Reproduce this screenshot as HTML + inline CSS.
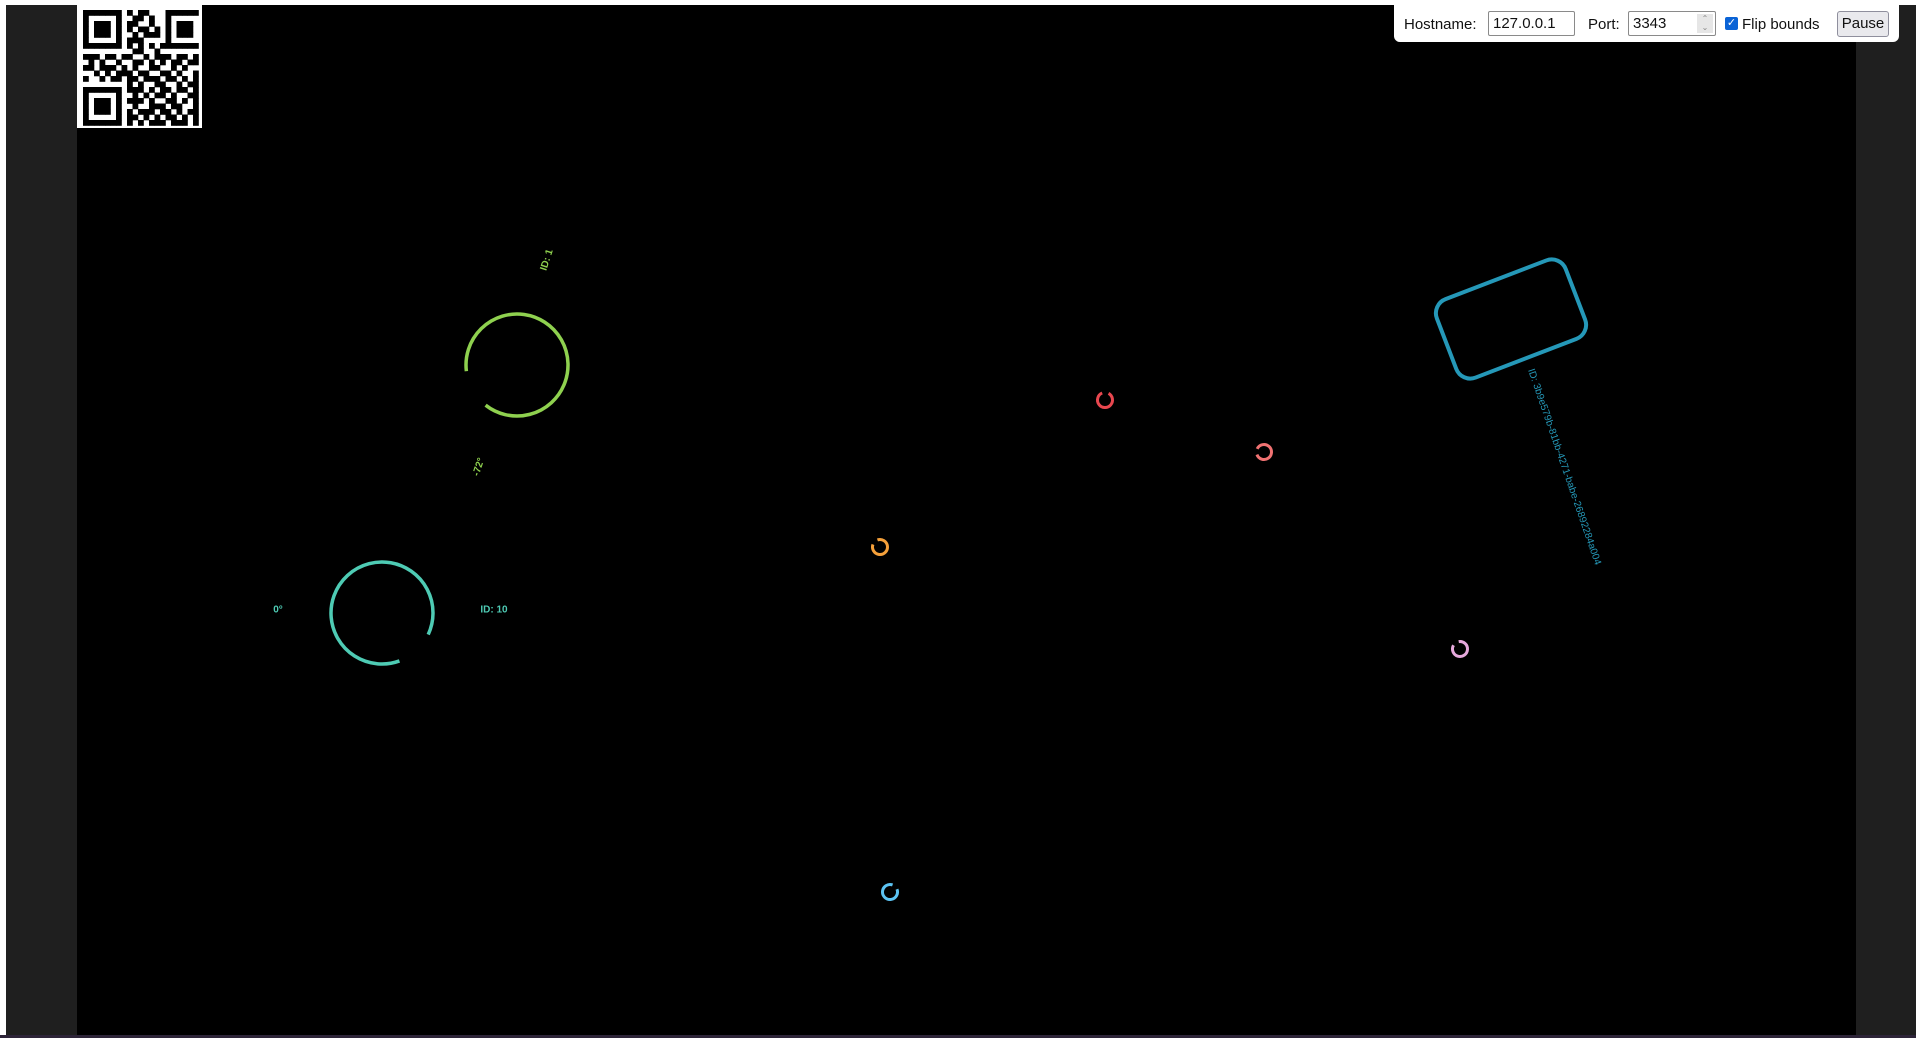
<!DOCTYPE html>
<html><head><meta charset="utf-8"><title>Tracker view</title>
<style>
html,body{margin:0;padding:0;width:1916px;height:1038px;overflow:hidden;background:#fff;font-family:"Liberation Sans",sans-serif}
#stage{position:absolute;left:0;top:0}
#panel{position:absolute;left:1394px;top:4px;width:505px;height:38px;background:#fff;border-radius:0 0 6px 6px;font-size:15px;color:#111}
#panel .t{position:absolute;top:11px;line-height:20px}
#panel .inp{position:absolute;top:7px;height:25px;box-sizing:border-box;border:1px solid #8a8a8a;border-radius:2px;background:#fff;font-size:15px;line-height:23px;padding-left:4px}
#panel .spin{position:absolute;right:2px;top:2px;width:16px;height:19px;background:#e6e6e6;color:#888;font-size:8px;line-height:9px;text-align:center}
#panel .cb{position:absolute;left:331px;top:13px;width:13px;height:13px;background:#0a63d6;border-radius:2px;color:#fff;font-size:11px;line-height:13px;text-align:center}
#panel .btn{position:absolute;left:443px;top:7px;width:52px;height:26px;box-sizing:border-box;border:1px solid #8f8f9d;border-radius:3px;background:#e9e9ed;font-size:15px;line-height:24px;text-align:center}
</style></head><body>
<svg id="stage" width="1916" height="1038">
  <rect x="0" y="0" width="1916" height="1038" fill="#ffffff"/>
  <rect x="6" y="5" width="71" height="1030" fill="#1f1f1f"/>
  <rect x="1856" y="5" width="60" height="1030" fill="#1f1f1f"/>
  <rect x="77" y="5" width="1779" height="1030" fill="#000"/>
  <rect x="0" y="1035" width="1916" height="3" fill="#2d2438"/>
  <g id="qr"></g>
  <g id="marks"></g>
</svg>
<div id="panel">
  <span class="t" style="left:10px">Hostname:</span>
  <div class="inp" style="left:94px;width:87px">127.0.0.1</div>
  <span class="t" style="left:194px">Port:</span>
  <div class="inp" style="left:234px;width:88px">3343<div class="spin">&#8963;<br>&#8964;</div></div>
  <div class="cb">&#10003;</div>
  <span class="t" style="left:348px">Flip bounds</span>
  <div class="btn">Pause</div>
</div>
<script>
const NS='http://www.w3.org/2000/svg';
// tracked objects data
const circleIds=['1','10','a','b','c','d','e'];
const circleX=[517,382,1105,1264,880,1460,890];
const circleY=[365,613,400,452,547,649,892];
const circleR=[51,51,7.5,7.5,7.5,7.5,7.5];
const gapStart=[128,25,-112,160,200,-150,-70];
const gapEnd=[173,70,-62,205,250,-100,-22];
const circleColors=['#8fd14f','#4ecbb4','#e8474f','#f07272','#f5a03a','#e6a9dc','#5cc3f2'];
const strokeW=[3.5,3.5,3,3,3,3,3];

const marks=document.getElementById('marks');
function mk(tag,attrs){const e=document.createElementNS(NS,tag);for(const k in attrs)e.setAttribute(k,attrs[k]);return e;}
function pt(cx,cy,r,a){const t=a*Math.PI/180;return [cx+r*Math.cos(t),cy+r*Math.sin(t)];}
for(let i=0;i<circleIds.length;i++){
  const s=gapEnd[i], e=gapStart[i]+360;
  const p1=pt(circleX[i],circleY[i],circleR[i],s), p2=pt(circleX[i],circleY[i],circleR[i],e);
  const large=(e-s)>180?1:0;
  const p=mk('path',{d:`M${p1[0]} ${p1[1]} A${circleR[i]} ${circleR[i]} 0 ${large} 1 ${p2[0]} ${p2[1]}`,fill:'none',stroke:circleColors[i],'stroke-width':strokeW[i]});
  
  
  marks.appendChild(p);
}
// labels
const labelText=['ID: 1','-72°','0°','ID: 10'];
const labelX=[547,479,278,494];
const labelY=[260,467,610,610];
const labelRot=[-72,-72,0,0];
const labelColor=['#8fd14f','#8fd14f','#4ecbb4','#4ecbb4'];
for(let i=0;i<labelText.length;i++){
  const t=mk('text',{x:labelX[i],y:labelY[i],fill:labelColor[i],'font-size':10,'font-weight':'bold','font-family':'Liberation Sans, sans-serif','text-anchor':'middle','dominant-baseline':'middle',transform:`rotate(${labelRot[i]} ${labelX[i]} ${labelY[i]})`});
  t.textContent=labelText[i];
  
  
  marks.appendChild(t);
}
// rotated rectangle
const rectCx=[1511], rectCy=[319], rectW=[138], rectH=[84], rectRot=[-21];
const r=mk('rect',{x:rectCx[0]-rectW[0]/2,y:rectCy[0]-rectH[0]/2,width:rectW[0],height:rectH[0],rx:15,fill:'none',stroke:'#2598b8','stroke-width':4,transform:`rotate(${rectRot[0]} ${rectCx[0]} ${rectCy[0]})`});


marks.appendChild(r);
const rt=mk('text',{x:1528,y:370,fill:'#2598b8','font-size':10,'font-family':'Liberation Sans, sans-serif',transform:'rotate(71 1528 370)'});
rt.textContent='ID: 3b9e579b-81bb-4271-babe-26892284a004';


marks.appendChild(rt);

// QR code
const qr=document.getElementById('qr');
qr.appendChild(mk('rect',{x:77,y:5,width:125,height:123,fill:'#fff'}));
const rows=[
'1111111010110001111111',
'1000001001101001000001',
'1011101011001001011101',
'1011101010110101011101',
'1011101001011101011101',
'1000001011100001000001',
'1111111010101011111111',
'0000000001100100000000',
'1110110110010111011010',
'0101001001101010110110',
'1101110101001100101001',
'0010101110110011010011',
'1001011011011101101011',
'0000000010100110010110',
'1111111011101011011010',
'1000001001010110100111',
'1011101011101001101010',
'1011101001001110110011',
'1011101010111011010110',
'1000001011010101101011',
'1111111010101110111010'];
const m=5.5, ox=83, oy=10;
for(let y=0;y<rows.length;y++)for(let x=0;x<rows[y].length-1;x++){
  if(rows[y][x]==='1')qr.appendChild(mk('rect',{x:ox+x*m,y:oy+y*m,width:m+0.3,height:m+0.3,fill:'#000'}));
}
</script>
</body></html>
